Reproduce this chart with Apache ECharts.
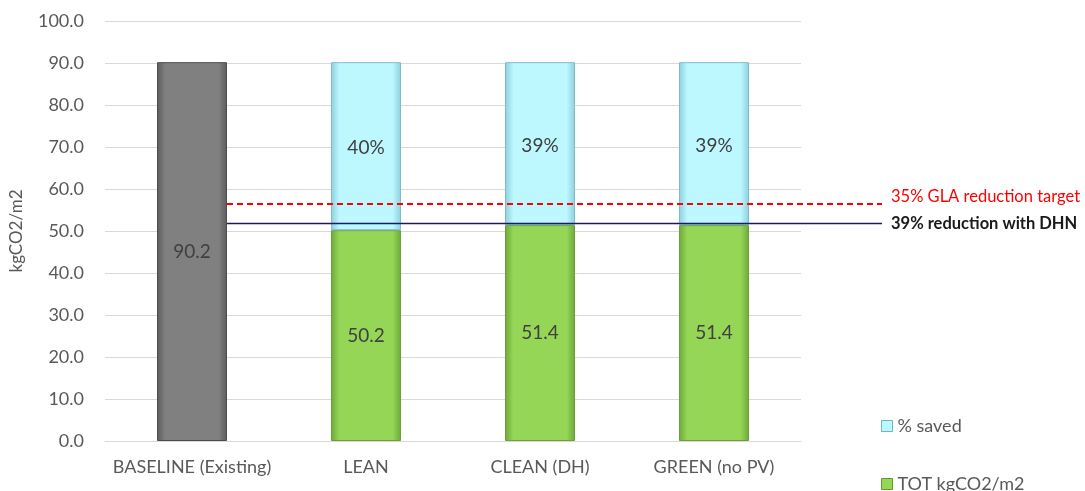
<!DOCTYPE html>
<html>
<head>
<meta charset="utf-8">
<script src="https://cdn.jsdelivr.net/npm/echarts@6/dist/echarts.min.js"></script>
<style>
  html, body { margin: 0; padding: 0; background: #ffffff; }
  #chart { width: 1085px; height: 491px; }
</style>
</head>
<body>
<div id="chart"></div>
<script>
// Carbon emissions by scenario (kgCO2/m2)
const categories = ['BASELINE (Existing)', 'LEAN', 'CLEAN (DH)', 'GREEN (no PV)'];
const totValues = [90.2, 50.2, 51.4, 51.4];          // TOT kgCO2/m2
const savedValues = ['-', 40.0, 38.8, 38.8];          // reduction against baseline
const savedPctLabels = ['', '40%', '39%', '39%'];     // % saved as printed
const yTicks = { min: 0, max: 100, interval: 10 };
const targetLevel = 56.4;                              // 35% GLA reduction target
const dhnLevel = 51.8;                                 // 39% reduction with DHN
const targetText = '35% GLA reduction target';
const dhnText = '39% reduction with DHN';

const FONT = 'Lato, "Open Sans", sans-serif';
const gridLeft = 105, gridTop = 21, gridBottom = 50;
const barRight = 801, lineRight = 882, W = 1085;
const catWidth = (barRight - gridLeft) / categories.length;
const barWidth = 70;
const lineMax = (lineRight - gridLeft) / catWidth;
const lineStart = 0.5 + (barWidth / 2) / catWidth;

function barGrad(edge, mid) {
  return new echarts.graphic.LinearGradient(0, 0, 1, 0, [
    { offset: 0, color: edge },
    { offset: 0.12, color: mid },
    { offset: 0.88, color: mid },
    { offset: 1, color: edge }
  ]);
}

const greenFill = barGrad('#6ea83a', '#95d656');
const blueFill = barGrad('#8ccfdd', '#bdf7ff');
const greyFill = barGrad('#5c5c5c', '#808080');

// one legend box per entry, stacked down the lower right corner
function legendBox(name, top, fill, border) {
  return {
    left: 881,
    top: top,
    padding: 0,
    itemWidth: 11,
    itemHeight: 11,
    icon: 'rect',
    textStyle: { fontFamily: FONT, fontSize: 18, color: '#595959' },
    data: [{ name: name, itemStyle: { color: fill, borderColor: border, borderWidth: 1 } }]
  };
}

const chart = echarts.init(document.getElementById('chart'), null, { renderer: 'canvas' });

chart.setOption({
  backgroundColor: '#ffffff',
  animation: false,
  textStyle: { fontFamily: FONT },
  grid: [
    { left: gridLeft, right: W - barRight, top: gridTop, bottom: gridBottom },
    { left: gridLeft, right: W - lineRight, top: gridTop, bottom: gridBottom }
  ],
  legend: [
    legendBox('% saved', 417, blueFill, '#6fb6c6'),
    legendBox('TOT kgCO2/m2', 475, greenFill, '#5f9a2c')
  ],
  xAxis: [
    {
      type: 'category',
      gridIndex: 0,
      data: categories,
      axisLine: { lineStyle: { color: '#d9d9d9', width: 1 } },
      axisTick: { show: false },
      axisLabel: { color: '#595959', fontSize: 18, fontFamily: FONT, margin: 17, interval: 0 }
    },
    {
      type: 'value',
      gridIndex: 1,
      min: 0,
      max: lineMax,
      show: false
    }
  ],
  yAxis: [
    {
      type: 'value',
      gridIndex: 0,
      min: yTicks.min,
      max: yTicks.max,
      interval: yTicks.interval,
      name: 'kgCO2/m2',
      nameLocation: 'middle',
      nameGap: 80,
      nameTextStyle: { color: '#595959', fontSize: 17, fontFamily: FONT },
      axisLine: { show: false },
      axisTick: { show: false },
      axisLabel: {
        color: '#595959', fontSize: 18, fontFamily: FONT, margin: 21,
        formatter: v => v.toFixed(1)
      },
      splitLine: { lineStyle: { color: '#d9d9d9', width: 1 } }
    },
    {
      type: 'value',
      gridIndex: 1,
      min: yTicks.min,
      max: yTicks.max,
      show: false
    }
  ],
  series: [
    {
      name: 'TOT kgCO2/m2',
      type: 'bar',
      stack: 'total',
      xAxisIndex: 0,
      yAxisIndex: 0,
      barWidth: barWidth,
      data: totValues.map((v, i) => i === 0
        ? { value: v, itemStyle: { color: greyFill, borderColor: '#4d4d4d' } }
        : v),
      itemStyle: { color: greenFill, borderColor: '#6a9f3a', borderWidth: 1 },
      label: {
        show: true,
        position: 'inside',
        color: '#404040',
        fontSize: 19,
        fontFamily: FONT,
        formatter: p => p.value.toFixed(1)
      },
      z: 2
    },
    {
      name: '% saved',
      type: 'bar',
      stack: 'total',
      xAxisIndex: 0,
      yAxisIndex: 0,
      barWidth: barWidth,
      data: savedValues,
      itemStyle: { color: blueFill, borderColor: '#7fbccb', borderWidth: 1 },
      label: {
        show: true,
        position: 'inside',
        color: '#404040',
        fontSize: 19,
        fontFamily: FONT,
        offset: [0, 2],
        formatter: p => savedPctLabels[p.dataIndex]
      },
      z: 2
    },
    {
      name: targetText,
      type: 'line',
      xAxisIndex: 1,
      yAxisIndex: 1,
      data: [[lineStart, targetLevel], [lineMax, targetLevel]],
      symbol: 'none',
      lineStyle: { color: '#ff0000', width: 2, type: [6, 4] },
      endLabel: {
        show: true,
        formatter: targetText,
        color: '#ff0000',
        fontSize: 16.5,
        fontFamily: FONT,
        distance: 9,
        offset: [0, -7]
      },
      z: 5
    },
    {
      name: dhnText,
      type: 'line',
      xAxisIndex: 1,
      yAxisIndex: 1,
      data: [[lineStart, dhnLevel], [lineMax, dhnLevel]],
      symbol: 'none',
      lineStyle: { color: '#1f1a5e', width: 1.5 },
      endLabel: {
        show: true,
        formatter: dhnText,
        color: '#1a1a1a',
        fontSize: 16.5,
        fontWeight: 'bold',
        fontFamily: FONT,
        distance: 9
      },
      z: 5
    }
  ]
});
</script>
</body>
</html>
